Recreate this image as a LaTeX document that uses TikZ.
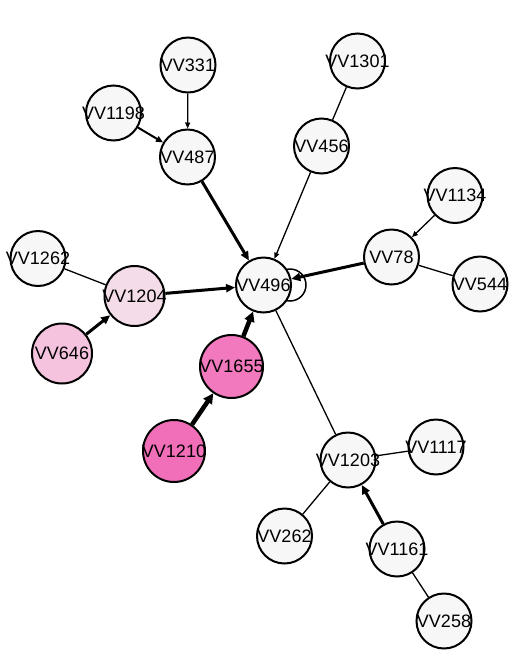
\documentclass[tikz,border=0pt]{standalone}
\usepackage{fontspec}
\setmainfont{Liberation Sans}
\usetikzlibrary{arrows.meta,backgrounds}
\newcommand\vlab[1]{\makebox[0pt]{#1}}
\definecolor{wfill}{HTML}{F7F7F7}
\definecolor{p1}{HTML}{F5DCE9}
\definecolor{p2}{HTML}{F6C3DF}
\definecolor{p3}{HTML}{F279BE}
\definecolor{p4}{HTML}{F16FB8}
\tikzset{
  vnode/.style={circle, draw=black, line width=2pt, fill=wfill, minimum size=55pt, inner sep=0pt,
    font=\fontsize{18}{20}\selectfont},
  bignode/.style={vnode, minimum size=60pt},
  thinline/.style={line width=1.3pt},
  thinarr/.style={line width=1.3pt, -{Triangle[length=6pt,width=5pt]}},
  medarr/.style={line width=2pt, -{Triangle[length=7pt,width=6pt]}},
  thickarr/.style={line width=3pt, -{Triangle[length=9pt,width=8pt]}},
  vthickarr/.style={line width=4.5pt, -{Triangle[length=10pt,width=10pt]}},
}
\begin{document}
\begin{tikzpicture}[x=1pt,y=-1pt]
\useasboundingbox[fill=white] (0,0) rectangle (521,665);
% self loop (behind nodes)
\draw[line width=1.5pt] (290,285) circle (16);
\node[vnode] (v331) at (188,65) {\vlab{VV331}};
\node[vnode] (v1198) at (113.5,113) {\vlab{VV1198}};
\node[vnode] (v487) at (187.5,157) {\vlab{VV487}};
\node[vnode] (v1301) at (357.5,61) {\vlab{VV1301}};
\node[vnode] (v456) at (321.5,146) {\vlab{VV456}};
\node[vnode] (v1134) at (455,195.5) {\vlab{VV1134}};
\node[vnode] (v78) at (391.5,257) {\vlab{VV78}};
\node[vnode] (v544) at (480,284) {\vlab{VV544}};
\node[vnode] (v1262) at (38,258.5) {\vlab{VV1262}};
\node[bignode, fill=p1] (v1204) at (134.5,296) {\vlab{VV1204}};
\node[bignode, fill=p2] (v646) at (62,353.5) {\vlab{VV646}};
\node[vnode] (v496) at (263.5,285) {\vlab{VV496}};
\node[bignode, minimum size=63pt, fill=p3] (v1655) at (231.5,366.5) {\vlab{VV1655}};
\node[bignode, minimum size=62pt, fill=p4] (v1210) at (174,451) {\vlab{VV1210}};
\node[vnode] (v1203) at (348,460) {\vlab{VV1203}};
\node[vnode] (v1117) at (436,447) {\vlab{VV1117}};
\node[vnode] (v262) at (284.5,536) {\vlab{VV262}};
\node[vnode] (v1161) at (397,549) {\vlab{VV1161}};
\node[vnode] (v258) at (444,621) {\vlab{VV258}};
% edges
\draw[thinarr] (v331) -- (v487);
\draw[medarr] (v1198) -- (v487);
\draw[thickarr] (v487) -- (v496);
\draw[thinline] (v1301) -- (v456);
\draw[thinarr] (v456) -- (v496);
\draw[thinarr] (v1134) -- (v78);
\draw[thinline] (v544) -- (v78);
\draw[thickarr] (v78) -- (v496);
\draw[thinline] (v1262) -- (v1204);
\draw[thickarr] (v646) -- (v1204);
\draw[thickarr] (v1204) -- (v496);
\draw[vthickarr] (v1655) -- (v496);
\draw[vthickarr] (v1210) -- (v1655);
\draw[thinline] (v496) -- (v1203);
\draw[thinline] (v1117) -- (v1203);
\draw[thinline] (v262) -- (v1203);
\draw[thickarr] (v1161) -- (v1203);
\draw[thinline] (v258) -- (v1161);
\end{tikzpicture}
\end{document}
